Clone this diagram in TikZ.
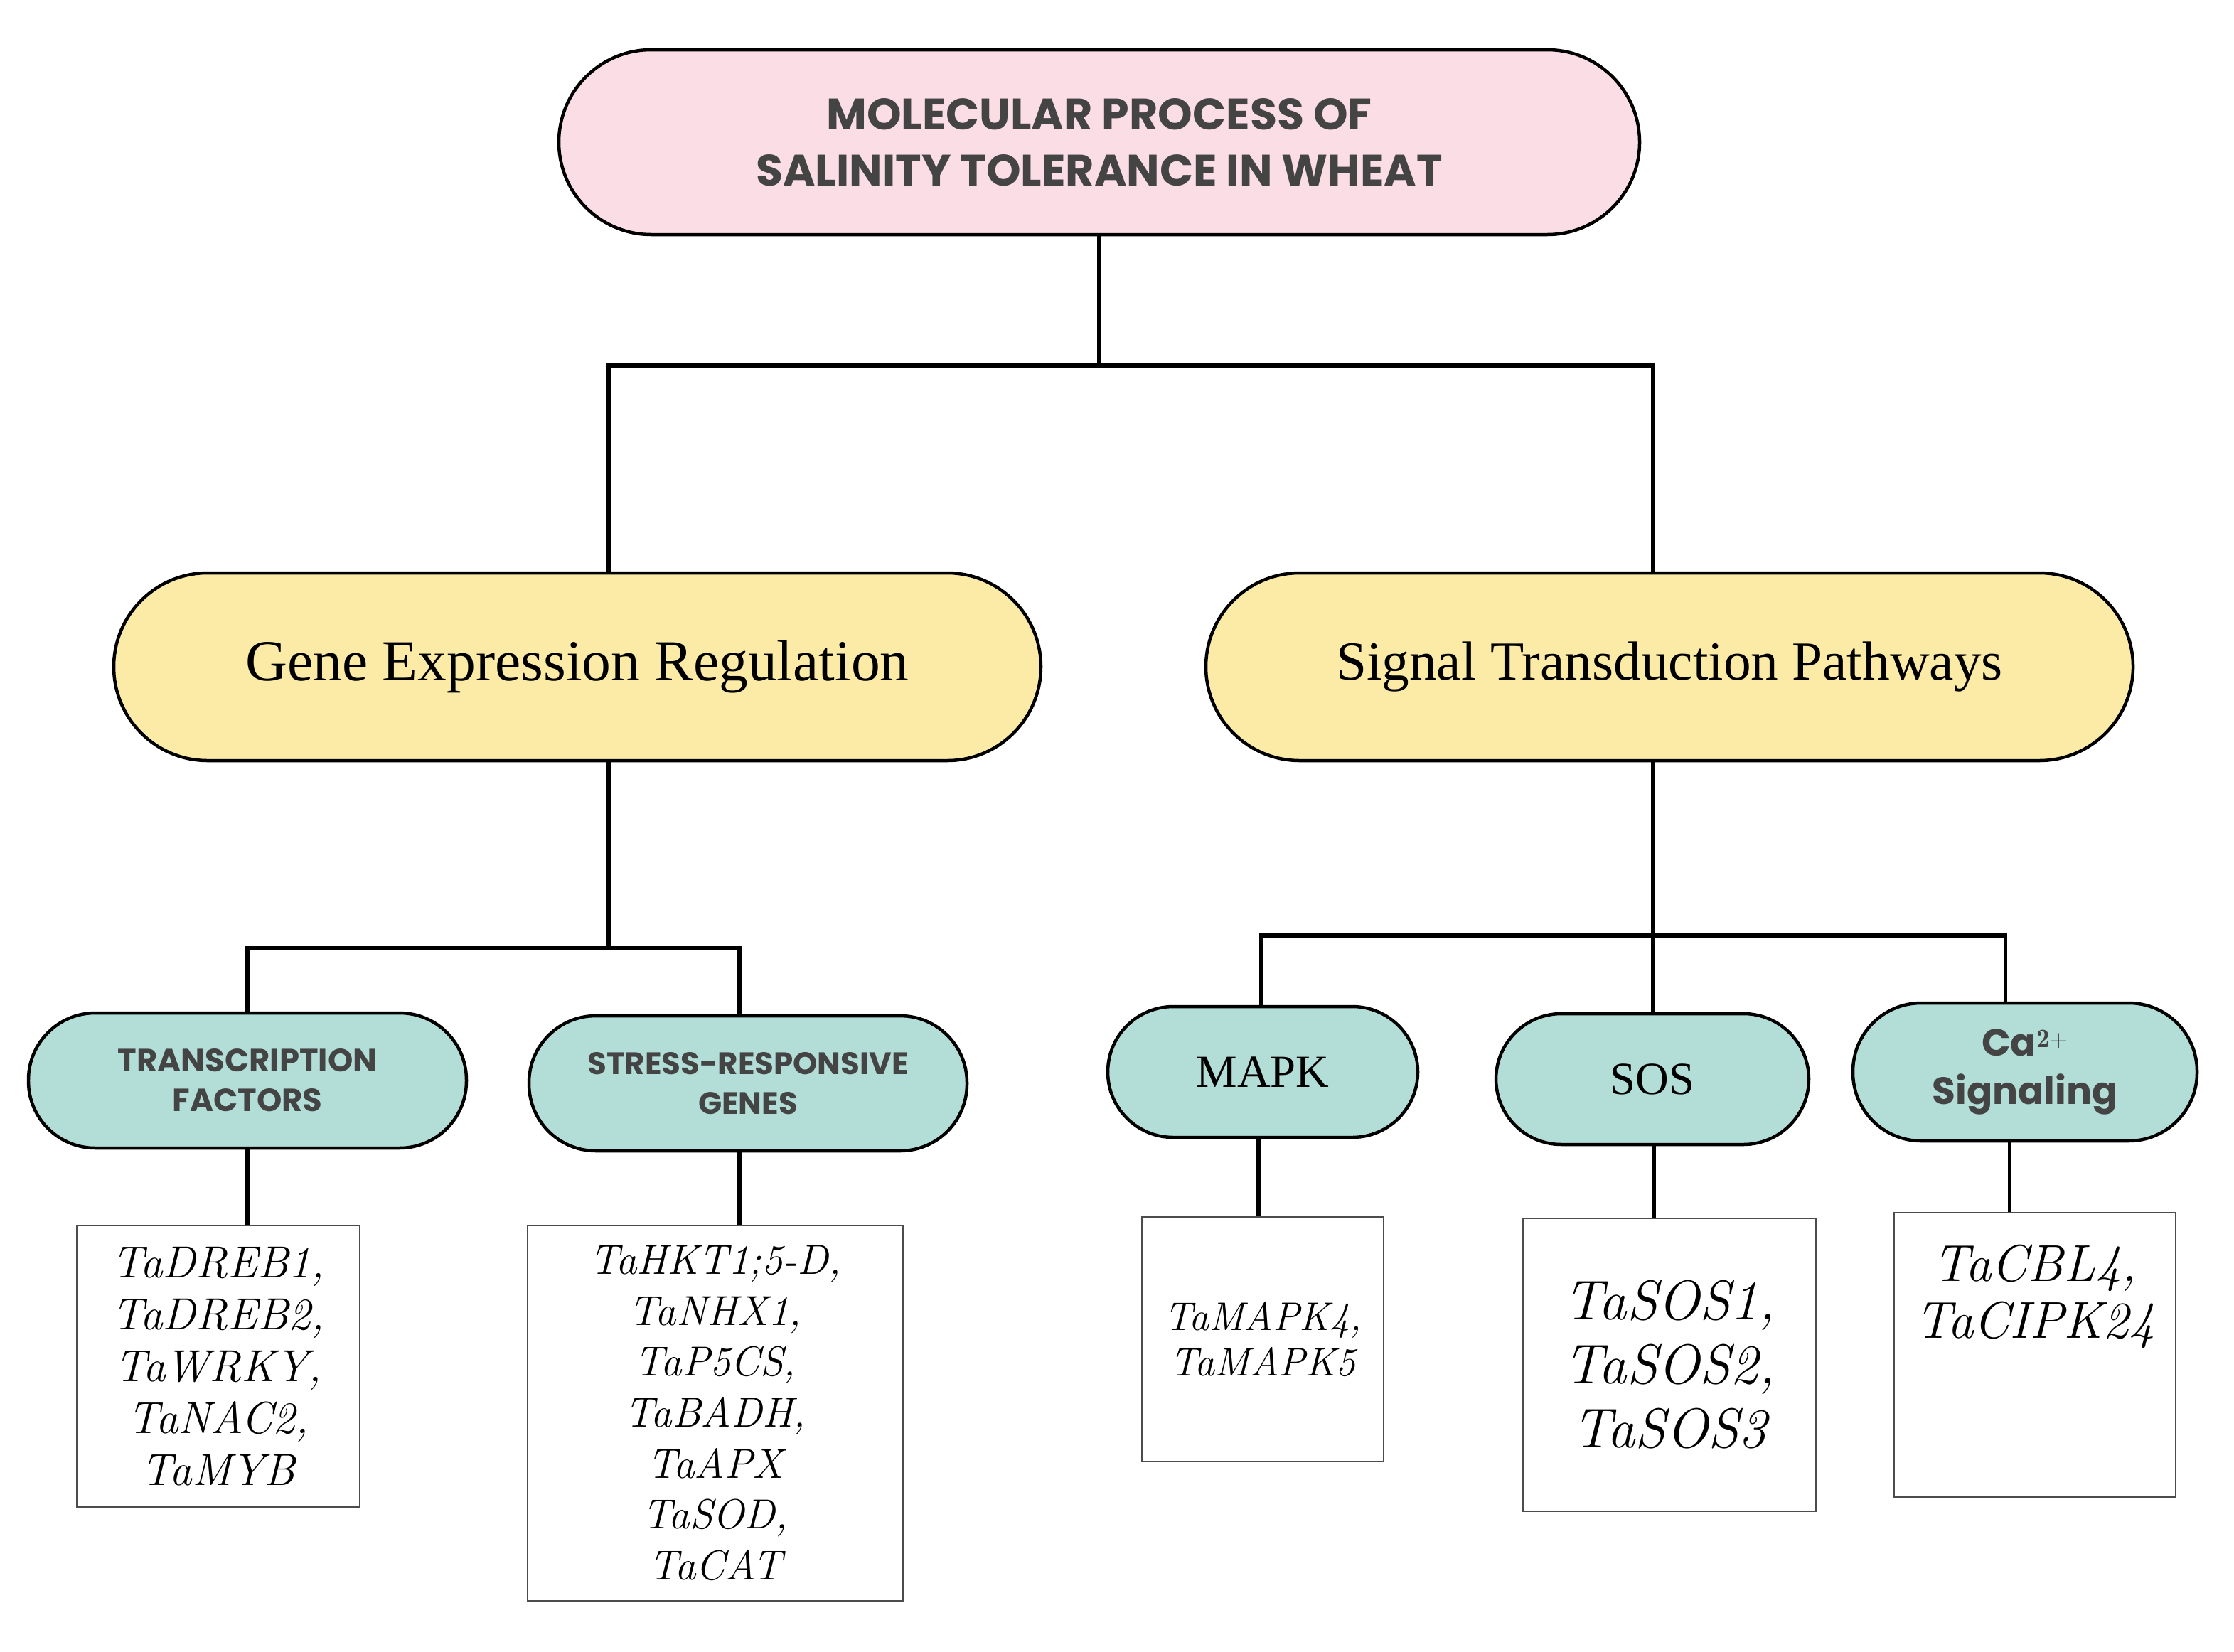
\documentclass[tikz,border=0pt]{standalone}
\usepackage{fontspec}
\newfontfamily\popp{Poppins}
\newfontfamily\lser{Liberation Serif}
\begin{document}
\begin{tikzpicture}[x=0.05cm,y=-0.05cm,
 pill/.style={draw=black,line width=3.2pt,rounded corners=#1,align=center,inner sep=0pt},
 gbox/.style={draw=black!70,line width=1.6pt,fill=white,align=center,inner sep=0pt,font=\itshape},
 con/.style={line width=3.6pt},
 hd/.style={text=hdgray},
]
\definecolor{pinkf}{HTML}{FBDDE6}
\definecolor{yell}{HTML}{FCEBA6}
\definecolor{teal}{HTML}{B3DDD7}
\definecolor{hdgray}{HTML}{444444}
\useasboundingbox (0,0) rectangle (1571,1161.5);
% top
\node[pill=65*0.05cm,fill=pinkf,minimum width=760*0.05cm,minimum height=130*0.05cm,hd,font=\popp\bfseries\fontsize{44}{56}\selectfont] (top) at (773,100) {MOLECULAR PROCESS OF\\SALINITY TOLERANCE IN WHEAT};
\node[pill=66*0.05cm,fill=yell,minimum width=652*0.05cm,minimum height=132*0.05cm,font=\lser\fontsize{58}{60}\selectfont] (ger) at (406,469) {Gene Expression Regulation};
\node[pill=66*0.05cm,fill=yell,minimum width=652*0.05cm,minimum height=132*0.05cm,font=\lser\fontsize{55}{60}\selectfont] (stp) at (1174,469) {Signal Transduction Pathways};
% level 3
\node[pill=47*0.05cm,fill=teal,minimum width=308*0.05cm,minimum height=95*0.05cm,hd,font=\popp\bfseries\fontsize{32}{40}\selectfont] (tf) at (174,760) {TRANSCRIPTION\\FACTORS};
\node[pill=47*0.05cm,fill=teal,minimum width=308*0.05cm,minimum height=95*0.05cm,hd,font=\popp\bfseries\fontsize{31}{40}\selectfont] (srg) at (526,762) {STRESS-RESPONSIVE\\GENES};
\node[pill=46*0.05cm,fill=teal,minimum width=218*0.05cm,minimum height=92*0.05cm,font=\lser\fontsize{46}{50}\selectfont] (mapk) at (888,754) {MAPK};
\node[pill=46*0.05cm,fill=teal,minimum width=220*0.05cm,minimum height=92*0.05cm,font=\lser\fontsize{46}{50}\selectfont] (sos) at (1162,759) {SOS};
\node[pill=48*0.05cm,fill=teal,minimum width=242*0.05cm,minimum height=97*0.05cm,hd,font=\popp\bfseries\fontsize{38}{48}\selectfont] (ca) at (1424,754) {Ca$^{\mathbf{2+}}$\\Signaling};
% boxes
\node[gbox,minimum width=199*0.05cm,minimum height=198*0.05cm,font=\itshape\fontsize{45}{52}\selectfont] (b1) at (153.5,961) {TaDREB1,\\TaDREB2,\\TaWRKY,\\TaNAC2,\\TaMYB};
\node[gbox,minimum width=264*0.05cm,minimum height=264*0.05cm,font=\itshape\fontsize{42}{51}\selectfont] (b2) at (503,994) {TaHKT1;5-D,\\TaNHX1,\\TaP5CS,\\TaBADH,\\TaAPX\\TaSOD,\\TaCAT};
\node[gbox,minimum width=170*0.05cm,minimum height=172*0.05cm,font=\itshape\fontsize{40}{46}\selectfont] (b3) at (888,942) {TaMAPK4,\\TaMAPK5};
\node[gbox,minimum width=206*0.05cm,minimum height=206*0.05cm,font=\itshape\fontsize{56}{64}\selectfont] (b4) at (1174,960) {TaSOS1,\\TaSOS2,\\TaSOS3};
\node[gbox,minimum width=198*0.05cm,minimum height=200*0.05cm,font=\itshape\fontsize{52}{57}\selectfont] (b5) at (1431,953) {TaCBL4,\\TaCIPK24\\[70pt]};
% connectors
\coordinate (j1) at (773,257);
\draw[con] (top.south) -- (j1);
\draw[con] (ger.north -| 428,0) |- (j1) -| (stp.north -| 1162,0);
\coordinate (j2) at (428,667);
\draw[con] (ger.south -| j2) -- (j2);
\draw[con] (tf.north) |- (j2) -| (srg.north -| 520,0);
\coordinate (j3) at (1162,658);
\draw[con] (stp.south -| j3) -- (sos.north -| j3);
\draw[con] (mapk.north -| 887,0) |- (j3) -| (ca.north -| 1410,0);
\draw[con] (tf.south) -- (b1.north -| tf.south);
\draw[con] (srg.south -| 520,0) -- (b2.north -| 520,0);
\draw[con] (mapk.south -| 885,0) -- (b3.north -| 885,0);
\draw[con] (sos.south -| 1163,0) -- (b4.north -| 1163,0);
\draw[con] (ca.south -| 1413,0) -- (b5.north -| 1413,0);
\end{tikzpicture}
\end{document}
